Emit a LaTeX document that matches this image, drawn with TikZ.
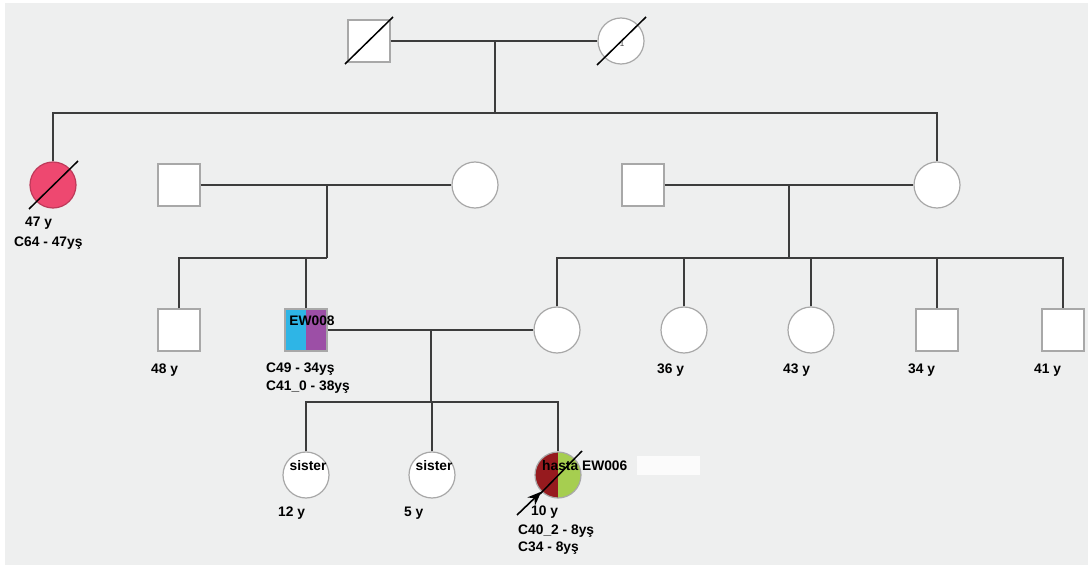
\documentclass[tikz,border=0pt]{standalone}
\usepackage{fontspec}
\setmainfont{Liberation Sans}
\usetikzlibrary{arrows.meta}
\definecolor{bg}{RGB}{238,239,239}
\definecolor{nodegray}{RGB}{168,168,168}
\definecolor{linegray}{RGB}{60,60,60}
\definecolor{pinkred}{RGB}{238,72,112}
\definecolor{ewblue}{RGB}{46,181,230}
\definecolor{ewpurple}{RGB}{156,79,166}
\definecolor{dred}{RGB}{150,26,30}
\definecolor{lgreen}{RGB}{166,206,80}
\begin{document}
\begin{tikzpicture}[x=1pt,y=-1pt,
  male/.style={rectangle, draw=nodegray, line width=1.2pt, fill=white, minimum size=42pt, inner sep=0pt},
  female/.style={circle, draw=nodegray, line width=1.2pt, fill=white, minimum size=46pt, inner sep=0pt},
  conn/.style={draw=linegray, line width=1.9pt},
  dead/.style={draw=black, line width=1.5pt},
  lbl/.style={font=\bfseries\fontsize{13.8}{16}\selectfont, inner sep=0pt, anchor=base west},
  inlbl/.style={font=\bfseries\fontsize{13.8}{16}\selectfont, inner sep=0pt}
]
\useasboundingbox (0,0) rectangle (1088,567);
\fill[white] (0,0) rectangle (1088,567);
\fill[bg] (5,3) rectangle (1088,565);

% generation 1
\node[male] (gf) at (369,41) {};
\node[female] (gm) at (621,41) {};
% generation 2
\node[female, fill=pinkred, draw=pinkred!80!black] (aunt) at (53,185) {};
\node[male] (f2a) at (179,185) {};
\node[female] (m2a) at (475,185) {};
\node[male] (f2b) at (643,185) {};
\node[female] (m2b) at (937,185) {};
% generation 3
\node[male] (u48) at (179,330) {};
\node[male, path picture={
   \fill[ewblue] (path picture bounding box.south west) rectangle (path picture bounding box.north);
   \fill[ewpurple] (path picture bounding box.north) rectangle (path picture bounding box.north east |- path picture bounding box.south);}] (ew) at (306,330) {};
\node[female] (mom) at (557,330) {};
\node[female] (a36) at (684,330) {};
\node[female] (a43) at (811,330) {};
\node[male] (u34) at (937,330) {};
\node[male] (u41) at (1063,330) {};
% generation 4
\node[female] (s1) at (306,475) {};
\node[female] (s2) at (432,475) {};
\node[female, path picture={
   \fill[dred] (path picture bounding box.south west) rectangle (path picture bounding box.north);
   \fill[lgreen] (path picture bounding box.north) rectangle (path picture bounding box.north east |- path picture bounding box.south);}] (pro) at (558,475) {};

% connectors generation 1
\draw[conn] (gf.east) -- (gm.west);
\coordinate (j1) at (495,41);
\coordinate (j1b) at (495,113);
\draw[conn] (j1) -- (j1b);
\draw[conn] (aunt.north) |- (j1b) -| (m2b.north);
% generation 2 left couple
\draw[conn] (f2a.east) -- (m2a.west);
\coordinate (j2) at (327,185);
\coordinate (j2b) at (327,258);
\draw[conn] (j2) -- (j2b);
\draw[conn] (u48.north) |- (j2b);
\draw[conn] (ew.north) -- (ew.north |- j2b);
% generation 2 right couple
\draw[conn] (f2b.east) -- (m2b.west);
\coordinate (j3) at (789,185);
\coordinate (j3b) at (789,258);
\draw[conn] (j3) -- (j3b);
\draw[conn] (mom.north) |- (j3b) -| (u41.north);
\draw[conn] (a36.north) -- (a36.north |- j3b);
\draw[conn] (a43.north) -- (a43.north |- j3b);
\draw[conn] (u34.north) -- (u34.north |- j3b);
% generation 3 couple
\draw[conn] (ew.east) -- (mom.west);
\coordinate (j4) at (431,330);
\coordinate (j4b) at (431,402);
\draw[conn] (j4) -- (j4b);
\draw[conn] (s1.north) |- (j4b) -| (pro.north);
\draw[conn] (s2.north) -- (s2.north |- j4b);

% deceased slashes
\draw[dead] ([shift={(-24,23)}]gf.center) -- ([shift={(24,-24)}]gf.center);
\draw[dead] ([shift={(-24,24)}]gm.center) -- ([shift={(25,-24)}]gm.center);
\draw[dead] ([shift={(-24,24)}]aunt.center) -- ([shift={(25,-24)}]aunt.center);
\draw[dead] ([shift={(-18,19)}]pro.center) -- ([shift={(24,-24)}]pro.center);
\node[font=\fontsize{8}{9}\selectfont, text=linegray, inner sep=0pt] (one) at (622,44) {1};

% proband arrow
\coordinate (arrtail) at (517,515);
\draw[line width=1.6pt, -{Stealth[length=14pt,width=11pt]}] (arrtail) -- (pro.south west);

% erased patch
\fill[white, opacity=0.8] (637,456) rectangle (700,475);

% labels
\node[inlbl] (tew) at (312,321) {EW008};
\node[inlbl] (ts1) at (308,466) {sister};
\node[inlbl] (ts2) at (434,466) {sister};
\node[lbl] (tpro) at (542,470.8) {hasta EW006};

\node[lbl] (l1) at (25,226.8) {47 y};
\node[lbl] (l2) at (14,246.8) {C64 - 47yş};
\node[lbl] (l3) at (151,373.8) {48 y};
\node[lbl] (l4) at (266,372.8) {C49 - 34yş};
\node[lbl] (l5) at (266,390.8) {C41\_0 - 38yş};
\node[lbl] (l6) at (657,373.8) {36 y};
\node[lbl] (l7) at (783,373.8) {43 y};
\node[lbl] (l8) at (908,373.8) {34 y};
\node[lbl] (l9) at (1034,373.8) {41 y};
\node[lbl] (l10) at (278,516.8) {12 y};
\node[lbl] (l11) at (404,516.8) {5 y};
\node[lbl] (l12) at (531,515.8) {10 y};
\node[lbl] (l13) at (518,534.8) {C40\_2 - 8yş};
\node[lbl] (l14) at (518,551.8) {C34 - 8yş};
\end{tikzpicture}
\end{document}
